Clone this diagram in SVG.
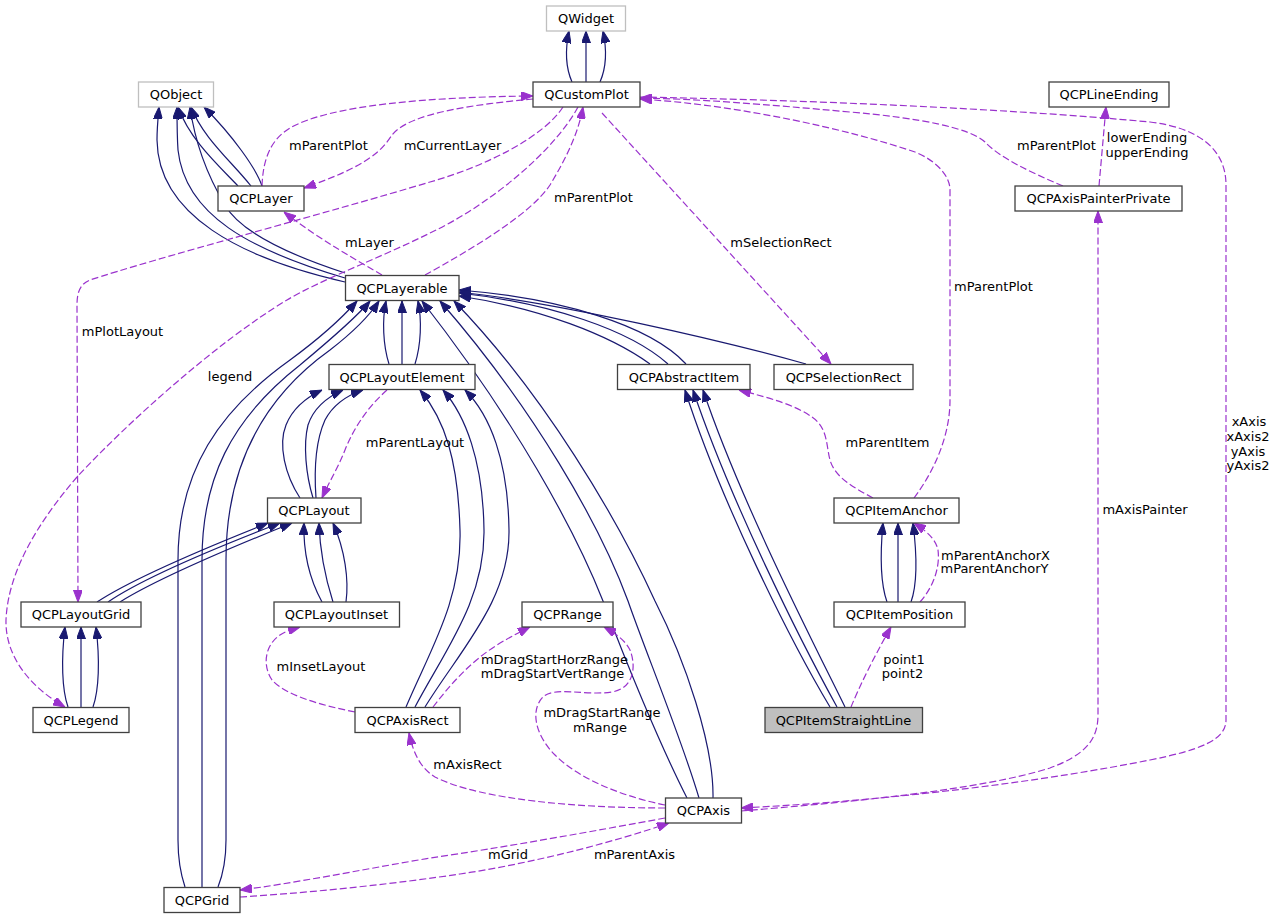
<svg xmlns="http://www.w3.org/2000/svg" width="1277" height="919" viewBox="0 0 1277 919">
<style>
text{font-family:"DejaVu Sans","Liberation Sans",sans-serif;font-size:13px;fill:#000;text-anchor:middle}
.n rect{fill:#fff;stroke:#404040;stroke-width:1.3}
.n.g rect{stroke:#bfbfbf}
.n.cur rect{fill:#bfbfbf}
.inh{fill:none;stroke:#191970;stroke-width:1.2;marker-end:url(#ah-inh)}
.use{fill:none;stroke:#9a32cd;stroke-width:1.2;stroke-dasharray:7,3;marker-end:url(#ah-use)}
.hid{fill:none;stroke:#191970;stroke-width:1.2}
</style>
<defs>
<marker id="ah-inh" viewBox="0 0 12 9" refX="12" refY="4.5" markerWidth="12" markerHeight="9" markerUnits="userSpaceOnUse" orient="auto"><path d="M0,0 L12,4.5 L0,9 z" fill="#191970" stroke="#191970" stroke-width="1"/></marker>
<marker id="ah-use" viewBox="0 0 12 9" refX="12" refY="4.5" markerWidth="12" markerHeight="9" markerUnits="userSpaceOnUse" orient="auto"><path d="M0,0 L12,4.5 L0,9 z" fill="#9a32cd" stroke="#9a32cd" stroke-width="1"/></marker>
</defs>
<rect width="1277" height="919" fill="#fff"/>
<g id="edges">
<!-- QCustomPlot -> QWidget -->
<path class="inh" d="M572,82 C565,66 565,50 569,31"/>
<path class="inh" d="M586,82 L586,31"/>
<path class="inh" d="M600,82 C607,66 607,50 603,31"/>
<!-- QCPLayerable -> QObject -->
<path class="inh" d="M345,282 C240,258 158,215 157,140 C157,128 158,118 159,107"/>
<path class="inh" d="M345,278 C250,250 185,215 178,150 C177,135 177,120 177,107"/>
<path class="inh" d="M345,273 C290,255 240,232 225,205 C210,180 196,150 190,107"/>
<!-- QCPLayer -> QObject -->
<path class="inh" d="M238,186 C218,165 190,140 178,107"/>
<path class="inh" d="M251,186 C232,162 203,138 191,107"/>
<path class="inh" d="M262,186 C256,168 232,135 204,107"/>
<!-- QCPLayoutElement -> QCPLayerable -->
<path class="inh" d="M389,364 C383,345 382,320 386,301"/>
<path class="inh" d="M402,364 L402,301"/>
<path class="inh" d="M415,364 C421,345 422,320 418,301"/>
<!-- QCPGrid -> QCPLayerable -->
<path class="inh" d="M185,887 C180,872 178,858 178,840 L178,560 C178,470 220,410 290,360 C320,338 342,318 357,301"/>
<path class="inh" d="M202,887 L202,560 C202,480 230,420 300,365 C330,340 356,318 370,301"/>
<path class="inh" d="M218,887 C224,872 226,858 226,840 L226,560 C226,470 260,400 330,350 C352,333 368,318 379,301"/>
<!-- QCPAxis -> QCPLayerable -->
<path class="inh" d="M687,798 C660,745 625,660 603,601 C575,530 515,420 422,301"/>
<path class="inh" d="M699,798 C682,740 645,650 628,601 C600,525 535,410 440,301"/>
<path class="inh" d="M713,798 C714,745 685,660 655,601 C618,520 545,395 454,301"/>
<!-- QCPAbstractItem -> QCPLayerable -->
<path class="inh" d="M650,364 C610,335 540,308 459,296"/>
<path class="inh" d="M668,364 C630,330 550,303 459,293"/>
<path class="inh" d="M686,364 C650,325 560,298 459,290"/>
<!-- QCPSelectionRect -> QCPLayerable -->
<path class="inh" d="M806,364 C720,340 560,303 459,292"/>
<!-- QCPAxisRect -> QCPLayoutElement -->
<path class="inh" d="M406,707 C430,650 462,600 460,530 C458,460 445,420 420,390"/>
<path class="inh" d="M415,707 C445,650 485,600 484,530 C483,460 465,415 443,390"/>
<path class="inh" d="M425,707 C460,650 510,600 509,530 C508,460 490,415 465,390"/>
<!-- QCPLayout -> QCPLayoutElement -->
<path class="inh" d="M300,498 C285,475 278,445 286,425 C292,410 305,398 322,390"/>
<path class="inh" d="M313,498 C306,475 303,445 308,425 C313,410 325,398 343,390"/>
<path class="inh" d="M316,498 C314,470 316,440 325,420 C333,405 345,396 363,390"/>
<!-- QCPLayoutGrid -> QCPLayout -->
<path class="inh" d="M97,602 C130,580 200,550 268,523"/>
<path class="inh" d="M108,602 C140,580 210,550 280,523"/>
<path class="inh" d="M120,602 C155,580 220,552 292,523"/>
<!-- QCPLayoutInset -> QCPLayout -->
<path class="inh" d="M322,602 C310,580 303,555 304,523"/>
<path class="inh" d="M333,602 C326,580 320,555 319,523"/>
<path class="inh" d="M346,602 C349,580 345,550 333,523"/>
<!-- QCPLegend -> QCPLayoutGrid -->
<path class="inh" d="M68,707 C62,690 61,660 65,627"/>
<path class="inh" d="M81,707 L81,627"/>
<path class="inh" d="M93,707 C99,690 100,660 96,627"/>
<!-- QCPItemStraightLine -> QCPAbstractItem -->
<path class="inh" d="M830,707 C790,640 720,500 685,390"/>
<path class="inh" d="M837,707 C800,640 730,500 693,390"/>
<path class="inh" d="M845,707 C812,640 740,500 703,390"/>
<!-- QCPItemPosition -> QCPItemAnchor -->
<path class="inh" d="M887,602 C881,585 880,555 883,523"/>
<path class="inh" d="M898,602 L898,523"/>
<path class="inh" d="M911,602 C917,585 917,555 913,523"/>

<!-- usage edges -->
<path class="use" d="M262,186 C263,160 270,140 290,128 C330,105 430,97 533,96"/>
<path class="use" d="M533,99 C480,104 410,112 392,135 C382,150 370,165 304,188"/>
<path class="use" d="M425,275 C470,250 530,215 550,185 C565,160 578,135 583,107"/>
<path class="use" d="M563,107 C545,135 490,165 430,182 C330,212 150,260 90,280 C80,284 77,292 77,305 L78,602"/>
<path class="use" d="M578,107 C555,150 490,205 430,233 C380,258 320,280 287,300 C220,340 130,420 77,477 C40,520 8,570 6,620 C5,660 35,690 65,707"/>
<path class="use" d="M602,113 L831,364"/>
<path class="use" d="M914,498 C935,470 950,435 950,400 L950,190 C950,175 935,160 915,152 C850,130 740,105 640,99"/>
<path class="use" d="M1063,186 C1030,172 1000,158 985,142 C970,128 920,118 850,112 C760,104 700,99 640,98"/>
<path class="use" d="M640,97 C800,100 1000,108 1150,122 C1200,128 1226,150 1226,185 L1226,720 C1226,740 1200,750 1150,760 C1050,780 900,800 741,808"/>
<path class="use" d="M741,811 C850,802 980,790 1050,768 C1085,755 1098,740 1098,715 L1098,211"/>
<path class="use" d="M1099,186 L1106,107"/>
<path class="use" d="M873,498 C855,488 835,478 830,460 C826,445 828,428 812,417 C795,405 770,398 739,390"/>
<path class="use" d="M920,602 C935,585 940,565 938,550 C936,540 928,532 914,523"/>
<path class="use" d="M851,707 C860,685 875,655 891,627"/>
<path class="use" d="M387,390 C370,405 355,425 345,450 C338,468 330,480 322,498"/>
<path class="use" d="M382,275 C360,262 320,240 284,212"/>
<path class="use" d="M355,712 C320,705 285,695 272,680 C262,665 265,645 280,635 C286,631 293,629 300,627"/>
<path class="use" d="M433,707 C450,685 470,662 497,645 C510,637 520,632 530,627"/>
<path class="use" d="M665,805 C625,797 580,780 555,755 C535,735 530,710 543,697 C555,686 585,696 612,692 C635,688 636,665 630,650 C625,640 615,633 604,627"/>
<path class="use" d="M665,808 C580,808 480,800 435,777 C420,768 413,752 409,733"/>
<path class="use" d="M665,818 C600,830 500,848 430,858 C360,870 290,884 240,890"/>
<path class="use" d="M240,897 C320,892 400,883 460,874 C540,862 620,840 669,823"/>

<text x="328.5" y="150">mParentPlot</text>
<text x="452.5" y="150">mCurrentLayer</text>
<text x="593.5" y="202">mParentPlot</text>
<text x="781" y="247">mSelectionRect</text>
<text x="1056.5" y="150">mParentPlot</text>
<text x="1147" y="142">lowerEnding</text>
<text x="1147" y="157">upperEnding</text>
<text x="993.5" y="291">mParentPlot</text>
<text x="122.5" y="336">mPlotLayout</text>
<text x="230" y="381">legend</text>
<text x="369.5" y="247">mLayer</text>
<text x="415" y="447">mParentLayout</text>
<text x="887.5" y="447">mParentItem</text>
<text x="1249" y="425.5">xAxis</text>
<text x="1248" y="440.5">xAxis2</text>
<text x="1248" y="455.5">yAxis</text>
<text x="1248" y="469.5">yAxis2</text>
<text x="1145" y="513.5">mAxisPainter</text>
<text x="995.5" y="559.5">mParentAnchorX</text>
<text x="994.5" y="572.5">mParentAnchorY</text>
<text x="904" y="663.5">point1</text>
<text x="902.5" y="677.5">point2</text>
<text x="321" y="670.5">mInsetLayout</text>
<text x="554.5" y="663.5">mDragStartHorzRange</text>
<text x="552.5" y="677.5">mDragStartVertRange</text>
<text x="602" y="716.5">mDragStartRange</text>
<text x="600" y="731.5">mRange</text>
<text x="467.5" y="768.5">mAxisRect</text>
<text x="508" y="858.5">mGrid</text>
<text x="634.5" y="858.5">mParentAxis</text>
</g>

<g id="QWidget" class="n g"><rect x="546.5" y="6" width="79" height="25"/><text x="586" y="23">QWidget</text></g>
<g id="QCustomPlot" class="n"><rect x="533" y="82" width="107" height="25"/><text x="586.5" y="99">QCustomPlot</text></g>
<g id="QObject" class="n g"><rect x="138.5" y="82" width="75" height="25"/><text x="176" y="99">QObject</text></g>
<g id="QCPLayer" class="n"><rect x="218" y="186" width="86" height="25"/><text x="261" y="203">QCPLayer</text></g>
<g id="QCPLineEnding" class="n"><rect x="1049" y="82" width="120" height="25"/><text x="1109" y="99">QCPLineEnding</text></g>
<g id="QCPAxisPainterPrivate" class="n"><rect x="1015" y="186" width="167" height="25"/><text x="1098.5" y="203">QCPAxisPainterPrivate</text></g>
<g id="QCPLayerable" class="n"><rect x="345.5" y="275.5" width="113.5" height="25"/><text x="402" y="292.5">QCPLayerable</text></g>
<g id="QCPLayoutElement" class="n"><rect x="329" y="364.5" width="146" height="25"/><text x="402" y="381.5">QCPLayoutElement</text></g>
<g id="QCPAbstractItem" class="n"><rect x="617.5" y="364.5" width="132.5" height="25"/><text x="684" y="381.5">QCPAbstractItem</text></g>
<g id="QCPSelectionRect" class="n"><rect x="774" y="364.5" width="139" height="25"/><text x="843.5" y="381.5">QCPSelectionRect</text></g>
<g id="QCPLayout" class="n"><rect x="267.5" y="498" width="93.5" height="25"/><text x="314" y="515">QCPLayout</text></g>
<g id="QCPItemAnchor" class="n"><rect x="834" y="498" width="125" height="25"/><text x="896.5" y="515">QCPItemAnchor</text></g>
<g id="QCPLayoutGrid" class="n"><rect x="21" y="602" width="120" height="25"/><text x="81" y="619">QCPLayoutGrid</text></g>
<g id="QCPLayoutInset" class="n"><rect x="274" y="602" width="125.5" height="25"/><text x="336.5" y="619">QCPLayoutInset</text></g>
<g id="QCPRange" class="n"><rect x="522" y="602" width="91" height="25"/><text x="567.5" y="619">QCPRange</text></g>
<g id="QCPItemPosition" class="n"><rect x="834" y="602" width="131" height="25"/><text x="899.5" y="619">QCPItemPosition</text></g>
<g id="QCPLegend" class="n"><rect x="33" y="707.5" width="96" height="25"/><text x="81" y="724.5">QCPLegend</text></g>
<g id="QCPAxisRect" class="n"><rect x="355" y="707.5" width="105" height="25"/><text x="407.5" y="724.5">QCPAxisRect</text></g>
<g id="QCPItemStraightLine" class="n cur"><rect x="765" y="707.5" width="157.5" height="25"/><text x="843.5" y="724.5">QCPItemStraightLine</text></g>
<g id="QCPAxis" class="n"><rect x="665.5" y="798" width="76" height="25"/><text x="703.5" y="815">QCPAxis</text></g>
<g id="QCPGrid" class="n"><rect x="164" y="887.5" width="76" height="25"/><text x="202" y="904.5">QCPGrid</text></g>
</svg>
